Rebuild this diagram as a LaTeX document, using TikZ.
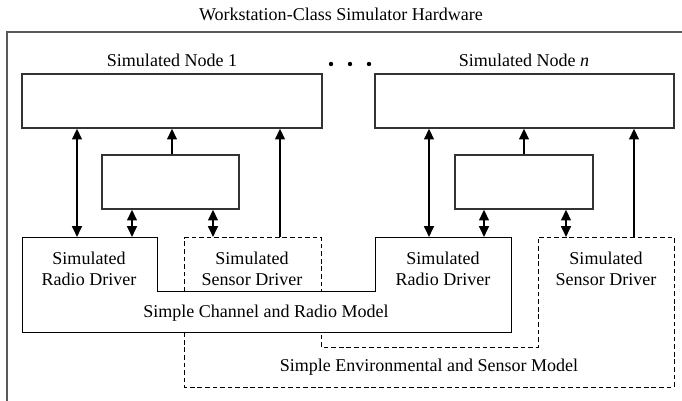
\documentclass[tikz,border=0pt]{standalone}
\usepackage{fontspec}
\setmainfont{Liberation Serif}
\usetikzlibrary{arrows.meta,fit}
\tikzset{
    hwframe/.style={draw=black!65, line width=1.1pt},
    block/.style={draw=black!80, line width=0.75pt, inner sep=0pt},
    model/.style={draw, fill=white, line width=0.55pt, line join=miter},
    envmodel/.style={model, dash pattern=on 2.6pt off 1.6pt},
    txt/.style={font=\fontsize{10}{11.7}\selectfont, align=center, inner sep=0pt},
    uparrow/.style={line width=1.1pt, -{Triangle[width=5.4pt,length=6pt]}},
    biarrow/.style={line width=1.1pt, {Triangle[width=5.4pt,length=6pt]}-{Triangle[width=5.4pt,length=6pt]}}
}

\begin{document}
\begin{tikzpicture}[x=0.555pt, y=-0.555pt]
    \useasboundingbox (0,0) rectangle (682,400);
    \draw [hwframe] (7,32) rectangle (700,420);
    \node [txt] (title) at (341,14) {Workstation-Class Simulator Hardware};

    % simulated nodes
    \coordinate (N1a) at (22,74);
    \coordinate (N1b) at (322,128);
    \coordinate (Nna) at (375,74);
    \coordinate (Nnb) at (674,128);
    \node [block, fit=(N1a)(N1b)] (node1) {};
    \node [block, fit=(Nna)(Nnb)] (noden) {};
    \node [txt] (node1lbl) at (172,60) {Simulated Node 1};
    \node [txt] (nodenlbl) at (524,60) {Simulated Node \textit{n}};
    \fill (331,64) circle (2.2) (350,64) circle (2.2) (369,64) circle (2.2);

    % inner blocks
    \coordinate (M1a) at (102,155);
    \coordinate (M1b) at (239,209);
    \coordinate (Mna) at (455,155);
    \coordinate (Mnb) at (593,209);
    \node [block, fit=(M1a)(M1b)] (mid1) {};
    \node [block, fit=(Mna)(Mnb)] (midn) {};

    % environment and channel models
    \draw [envmodel] (184,237) -- (321,237) -- (321,347) -- (538,347) -- (538,237)
        -- (674,237) -- (674,387) -- (184,387) -- cycle;
    \draw [model] (22,237) -- (157,237) -- (157,291) -- (375,291) -- (375,237)
        -- (511,237) -- (511,332) -- (22,332) -- cycle;

    \node [txt] (radio1) at (89,268.5) {Simulated\\Radio Driver};
    \node [txt] (sensor1) at (252,268.5) {Simulated\\Sensor Driver};
    \node [txt] (radion) at (443,268.5) {Simulated\\Radio Driver};
    \node [txt] (sensorn) at (606,268.5) {Simulated\\Sensor Driver};
    \node [txt] (chanlbl) at (266,313) {Simple Channel and Radio Model};
    \node [txt] (envlbl) at (429,367) {Simple Environmental and Sensor Model};

    % connectors
    \coordinate (R1) at (77,237);
    \coordinate (S1) at (280,237);
    \coordinate (A1) at (132,237);
    \coordinate (B1) at (213,237);
    \draw [biarrow] (R1) -- (R1 |- node1.south);
    \draw [uparrow] (node1.south |- mid1.north) -- (node1.south);
    \draw [uparrow] (S1) -- (S1 |- node1.south);
    \draw [biarrow] (A1) -- (A1 |- mid1.south);
    \draw [biarrow] (B1) -- (B1 |- mid1.south);

    \coordinate (Rn) at (429,237);
    \coordinate (Sn) at (634,237);
    \coordinate (An) at (484,237);
    \coordinate (Bn) at (566,237);
    \draw [biarrow] (Rn) -- (Rn |- noden.south);
    \draw [uparrow] (midn.north) -- (midn.north |- noden.south);
    \draw [uparrow] (Sn) -- (Sn |- noden.south);
    \draw [biarrow] (An) -- (An |- midn.south);
    \draw [biarrow] (Bn) -- (Bn |- midn.south);
\end{tikzpicture}
\end{document}
